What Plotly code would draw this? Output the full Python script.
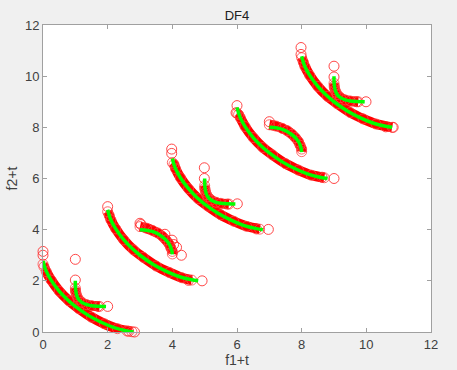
import plotly.graph_objects as go

# ---- True Pareto fronts (green) ----
PF0_X = [0.0, 0.05, 0.1, 0.25, 0.5, 0.75, 1.0, 1.4, 1.8, 2.2, 2.6, 2.8]
PF0_Y = [2.78, 2.55, 2.38, 2.03, 1.6, 1.27, 1.0, 0.65, 0.38, 0.17, 0.04, 0.0]
PF1_X = [1.0, 1.0, 1.005, 1.01, 1.03, 1.06, 1.1, 1.2, 1.35, 1.5, 1.7, 1.95]
PF1_Y = [2.0, 1.85, 1.73, 1.65, 1.49, 1.37, 1.28, 1.16, 1.07, 1.03, 1.01, 1.0]
PF2_X = [2.0, 2.05, 2.1, 2.25, 2.5, 2.75, 3.0, 3.4, 3.8, 4.2, 4.6, 4.8]
PF2_Y = [4.78, 4.55, 4.38, 4.03, 3.6, 3.27, 3.0, 2.65, 2.38, 2.17, 2.04, 2.0]
PF3_X = [3.0, 3.2, 3.4, 3.55, 3.7, 3.8, 3.9, 3.95, 3.99, 4.0]
PF3_Y = [4.0, 3.98, 3.92, 3.84, 3.71, 3.6, 3.44, 3.31, 3.14, 3.03]
PF4_X = [4.0, 4.05, 4.1, 4.25, 4.5, 4.75, 5.0, 5.4, 5.8, 6.2, 6.6, 6.8]
PF4_Y = [6.78, 6.55, 6.38, 6.03, 5.6, 5.27, 5.0, 4.65, 4.38, 4.17, 4.04, 4.0]
PF5_X = [5.0, 5.0, 5.005, 5.01, 5.03, 5.06, 5.1, 5.2, 5.35, 5.5, 5.7, 5.95]
PF5_Y = [6.0, 5.85, 5.73, 5.65, 5.49, 5.37, 5.28, 5.16, 5.07, 5.03, 5.01, 5.0]
PF6_X = [6.0, 6.05, 6.1, 6.25, 6.5, 6.75, 7.0, 7.4, 7.8, 8.2, 8.6, 8.8]
PF6_Y = [8.78, 8.55, 8.38, 8.03, 7.6, 7.27, 7.0, 6.65, 6.38, 6.17, 6.04, 6.0]
PF7_X = [7.0, 7.2, 7.4, 7.55, 7.7, 7.8, 7.9, 7.95, 7.99, 8.0]
PF7_Y = [8.0, 7.98, 7.92, 7.84, 7.71, 7.6, 7.44, 7.31, 7.14, 7.03]
PF8_X = [8.0, 8.05, 8.1, 8.25, 8.5, 8.75, 9.0, 9.4, 9.8, 10.2, 10.6, 10.8]
PF8_Y = [10.78, 10.55, 10.38, 10.03, 9.6, 9.27, 9.0, 8.65, 8.38, 8.17, 8.04, 8.0]
PF9_X = [9.0, 9.0, 9.005, 9.01, 9.03, 9.06, 9.1, 9.2, 9.35, 9.5, 9.7, 9.95]
PF9_Y = [10.0, 9.85, 9.73, 9.65, 9.49, 9.37, 9.28, 9.16, 9.07, 9.03, 9.01, 9.0]

# ---- Obtained solutions (red circles) along each front ----
S0_X = [0.0, 0.03, 0.1, 0.25, 0.5, 0.8, 1.1, 1.5, 1.9, 2.3, 2.6, 2.75]
S0_Y = [2.65, 2.55, 2.36, 2.03, 1.6, 1.22, 0.92, 0.58, 0.32, 0.13, 0.04, 0.01]
S1_X = [1.0, 1.005, 1.01, 1.03, 1.06, 1.1, 1.2, 1.35, 1.5, 1.75]
S1_Y = [1.72, 1.62, 1.57, 1.47, 1.37, 1.28, 1.16, 1.07, 1.03, 1.0]
S2_X = [2.0, 2.05, 2.1, 2.25, 2.5, 2.8, 3.1, 3.5, 3.9, 4.3, 4.6]
S2_Y = [4.7, 4.55, 4.38, 4.03, 3.6, 3.21, 2.92, 2.58, 2.33, 2.12, 2.03]
S3_X = [3.0, 3.2, 3.4, 3.55, 3.7, 3.8, 3.9, 3.95, 4.0, 4.0]
S3_Y = [4.12, 4.06, 3.96, 3.87, 3.73, 3.6, 3.44, 3.3, 3.15, 3.05]
S4_X = [4.0, 4.05, 4.1, 4.25, 4.5, 4.8, 5.1, 5.5, 5.9, 6.3, 6.7]
S4_Y = [6.62, 6.55, 6.38, 6.03, 5.6, 5.21, 4.92, 4.58, 4.33, 4.13, 4.02]
S5_X = [5.0, 5.005, 5.01, 5.03, 5.06, 5.1, 5.2, 5.35, 5.5, 5.75]
S5_Y = [5.72, 5.62, 5.57, 5.47, 5.37, 5.28, 5.16, 5.07, 5.03, 5.0]
S6_X = [6.0, 6.05, 6.1, 6.25, 6.5, 6.8, 7.1, 7.5, 7.9, 8.3, 8.7]
S6_Y = [8.55, 8.5, 8.38, 8.03, 7.6, 7.21, 6.92, 6.58, 6.33, 6.13, 6.03]
S7_X = [7.0, 7.2, 7.4, 7.55, 7.7, 7.8, 7.9, 7.95, 8.0, 8.0]
S7_Y = [8.1, 8.05, 7.96, 7.87, 7.73, 7.6, 7.44, 7.3, 7.15, 7.05]
S8_X = [8.0, 8.05, 8.1, 8.25, 8.5, 8.8, 9.1, 9.5, 9.9, 10.3, 10.8]
S8_Y = [10.72, 10.55, 10.38, 10.03, 9.6, 9.21, 8.92, 8.58, 8.33, 8.13, 8.0]
S9_X = [9.0, 9.005, 9.01, 9.03, 9.06, 9.1, 9.2, 9.35, 9.5, 9.75]
S9_Y = [9.72, 9.62, 9.57, 9.47, 9.37, 9.28, 9.16, 9.07, 9.03, 9.0]

# ---- Isolated red circles ----
OUT_X = [0.0, 0.0, 1.0, 1.0, 2.0, 2.83, 2.0, 4.92, 4.28, 3.77, 3.99, 4.04, 4.13,
         3.0, 3.03, 3.98, 3.98, 4.99, 4.99, 6.01, 6.97, 6.0, 5.97, 9.0, 7.0,
         7.98, 7.98, 9.0, 9.0, 9.99, 10.83, 8.63, 6.6, 4.5, 2.65, 1.7, 5.7, 9.7, 10.6]
OUT_Y = [3.15, 3.0, 2.84, 2.03, 1.0, 0.0, 4.9, 2.0, 3.0, 3.82, 3.59, 3.42, 3.31,
         4.25, 4.2, 7.15, 6.98, 6.42, 6.0, 5.01, 4.01, 8.85, 8.57, 6.0, 8.22,
         11.12, 10.85, 10.39, 9.97, 9.0, 8.0, 6.05, 4.03, 2.02, 0.03, 1.0, 5.0, 9.0, 8.02]

TICKS = [0, 2, 4, 6, 8, 10, 12]

PF = [(PF0_X, PF0_Y), (PF1_X, PF1_Y), (PF2_X, PF2_Y), (PF3_X, PF3_Y), (PF4_X, PF4_Y),
      (PF5_X, PF5_Y), (PF6_X, PF6_Y), (PF7_X, PF7_Y), (PF8_X, PF8_Y), (PF9_X, PF9_Y)]
SOL = [(S0_X, S0_Y), (S1_X, S1_Y), (S2_X, S2_Y), (S3_X, S3_Y), (S4_X, S4_Y),
       (S5_X, S5_Y), (S6_X, S6_Y), (S7_X, S7_Y), (S8_X, S8_Y), (S9_X, S9_Y)]

RED = '#ff0000'
GREEN = '#00ff00'
FONT = 'Liberation Sans, Arial, sans-serif'

fig = go.Figure()

for sx, sy in SOL:
    fig.add_trace(go.Scatter(
        x=sx, y=sy, mode='lines+markers', cliponaxis=False, showlegend=False,
        line=dict(color=RED, width=10, shape='spline', smoothing=0.8),
        marker=dict(symbol='circle-open', size=10, color='rgba(255,70,70,0.8)',
                    line=dict(width=1))))

fig.add_trace(go.Scatter(
    x=OUT_X, y=OUT_Y, mode='markers', cliponaxis=False, showlegend=False,
    marker=dict(symbol='circle-open', size=10, color='rgba(255,40,40,0.85)',
                line=dict(width=1))))

for px, py in PF:
    fig.add_trace(go.Scatter(
        x=px, y=py, mode='lines', cliponaxis=False, showlegend=False,
        line=dict(color=GREEN, width=3.5, shape='spline', smoothing=0.8)))

axis_common = dict(
    range=[0, 12], tickvals=TICKS, ticktext=[str(v) for v in TICKS],
    showgrid=False, zeroline=False, showline=True, linecolor='#a0a0a0', linewidth=1,
    mirror='ticks', ticks='inside', ticklen=4, tickcolor='#a0a0a0', tickwidth=1,
    automargin=False,
    tickfont=dict(family=FONT, size=13, color='#404040'),
)

fig.update_layout(
    width=457, height=370,
    margin=dict(l=43, r=26, t=25, b=38),
    paper_bgcolor='#f0f0f0', plot_bgcolor='#ffffff',
    title=dict(text='DF4', x=0.5, xanchor='center', xref='paper', y=0.957, yanchor='middle',
               font=dict(family=FONT, size=13, color='#202020')),
    xaxis=dict(axis_common, title=dict(text='f1+t', standoff=2,
               font=dict(family=FONT, size=14, color='#404040'))),
    yaxis=dict(axis_common, title=dict(text='f2+t', standoff=4,
               font=dict(family=FONT, size=14, color='#404040'))),
)

fig.write_html('out.html', config={'displayModeBar': False},
               post_script="document.body.style.margin='0';document.body.style.background='#f0f0f0';")
